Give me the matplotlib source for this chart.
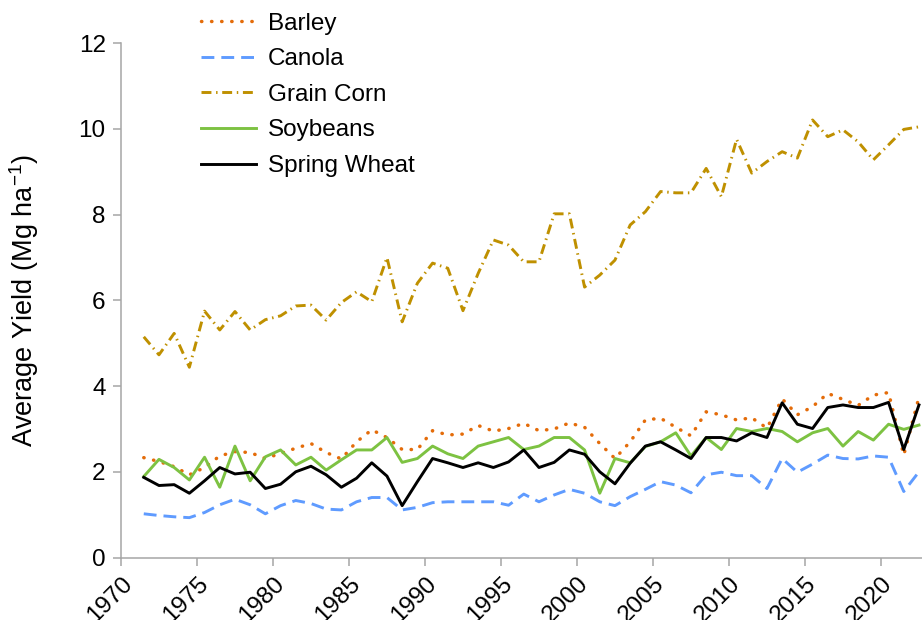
import numpy as np
import matplotlib
matplotlib.use("Agg")
import matplotlib.pyplot as plt

plt.rcParams["font.family"] = ["Liberation Sans", "DejaVu Sans"]
plt.rcParams["mathtext.default"] = "regular"

# ---- Data (Mg/ha), 1971-2022 ----
years = np.arange(1971, 2023)

barley = [2.33, 2.24, 2.12, 1.93, 2.10, 2.37, 2.47, 2.45, 2.31, 2.43,
          2.55, 2.66, 2.45, 2.30, 2.70, 2.98, 2.80, 2.52, 2.52, 2.96,
          2.86, 2.88, 3.08, 2.95, 3.01, 3.13, 2.96, 3.00, 3.14, 3.04,
          2.66, 2.31, 2.70, 3.21, 3.25, 3.04, 2.84, 3.40, 3.33, 3.21,
          3.26, 3.02, 3.70, 3.33, 3.52, 3.83, 3.69, 3.55, 3.79, 3.85,
          2.39, 3.74]
canola = [1.02, 0.98, 0.95, 0.93, 1.05, 1.23, 1.36, 1.23, 1.02, 1.21,
          1.33, 1.26, 1.13, 1.11, 1.30, 1.40, 1.40, 1.11, 1.17, 1.28,
          1.30, 1.30, 1.30, 1.30, 1.22, 1.48, 1.30, 1.46, 1.59, 1.50,
          1.30, 1.21, 1.42, 1.59, 1.77, 1.69, 1.51, 1.93, 1.99, 1.91,
          1.91, 1.61, 2.31, 1.99, 2.18, 2.39, 2.31, 2.30, 2.37, 2.34,
          1.54, 2.00]
grain_corn = [5.15, 4.73, 5.23, 4.44, 5.75, 5.31, 5.74, 5.31, 5.55, 5.64,
              5.87, 5.89, 5.54, 5.95, 6.20, 5.97, 7.00, 5.50, 6.40, 6.87,
              6.75, 5.76, 6.63, 7.41, 7.29, 6.90, 6.90, 8.02, 8.02, 6.31,
              6.59, 6.94, 7.76, 8.07, 8.54, 8.51, 8.51, 9.08, 8.42, 9.76,
              8.97, 9.24, 9.47, 9.32, 10.21, 9.82, 9.98, 9.70, 9.28, 9.63,
              9.99, 10.05]
soybeans = [1.89, 2.29, 2.10, 1.81, 2.34, 1.64, 2.60, 1.79, 2.35, 2.51,
            2.16, 2.34, 2.04, 2.28, 2.51, 2.51, 2.80, 2.22, 2.31, 2.60,
            2.42, 2.31, 2.60, 2.70, 2.80, 2.52, 2.60, 2.80, 2.80, 2.51,
            1.50, 2.31, 2.21, 2.59, 2.70, 2.91, 2.37, 2.80, 2.52, 3.01,
            2.94, 3.01, 2.94, 2.70, 2.91, 3.01, 2.60, 2.94, 2.74, 3.11,
            2.99, 3.09]
spring_wheat = [1.87, 1.68, 1.70, 1.50, 1.79, 2.10, 1.95, 1.99, 1.61, 1.71,
                2.00, 2.13, 1.93, 1.64, 1.85, 2.21, 1.90, 1.21, 1.77, 2.31,
                2.21, 2.10, 2.21, 2.10, 2.23, 2.51, 2.10, 2.22, 2.51, 2.41,
                2.00, 1.72, 2.20, 2.60, 2.70, 2.51, 2.31, 2.80, 2.80, 2.72,
                2.91, 2.80, 3.61, 3.11, 3.01, 3.50, 3.56, 3.50, 3.50, 3.62,
                2.52, 3.56]

# ---- Figure ----
fig = plt.figure(figsize=(9.22, 6.2), dpi=100)
ax = fig.add_axes([0.1312, 0.1008, 0.8688, 0.8294])

# points sit in the middle of each year's slot (category axis)
x = years + 0.5
lw = 2.1
ax.plot(x, barley, color="#E46C0A", lw=2.5, linestyle=(0, (0.1, 2.8)),
        dash_capstyle="round", label="Barley")
ax.plot(x, canola, color="#5F9BFF", lw=lw, linestyle=(0, (4.4, 2.4)),
        label="Canola")
ax.plot(x, grain_corn, color="#BF9000", lw=lw, linestyle=(0, (3.4, 1.6, 0.5, 1.6)),
        label="Grain Corn")
ax.plot(x, soybeans, color="#7DC242", lw=lw, label="Soybeans")
ax.plot(x, spring_wheat, color="black", lw=lw, label="Spring Wheat")

# ---- Axes styling ----
ax.set_xlim(1970, 2022.7)
ax.set_ylim(0, 12)
ax.set_xticks(np.arange(1970, 2021, 5))
ax.set_yticks(np.arange(0, 13, 2))
for lab in ax.get_xticklabels():
    lab.set_rotation(45)
    lab.set_ha("right")
    lab.set_rotation_mode("anchor")

for side in ("top", "right"):
    ax.spines[side].set_visible(False)
for side in ("left", "bottom"):
    ax.spines[side].set_color("#A6A6A6")
    ax.spines[side].set_linewidth(1.1)
ax.tick_params(axis="both", direction="out", length=6, width=1.1,
               color="#A6A6A6", labelsize=17.5, labelcolor="black", pad=5)

ax.set_ylabel("Average Yield (Mg ha$^{-1}$)", fontsize=19.5)
ax.yaxis.set_label_coords(-0.100, 0.5)

# ---- Legend ----
fig.legend(loc="upper left", bbox_to_anchor=(0.194, 1.015), frameon=False,
           fontsize=17.5, handlelength=2.26, handletextpad=0.5, labelspacing=0.56)

plt.savefig("out.png", dpi=100)
